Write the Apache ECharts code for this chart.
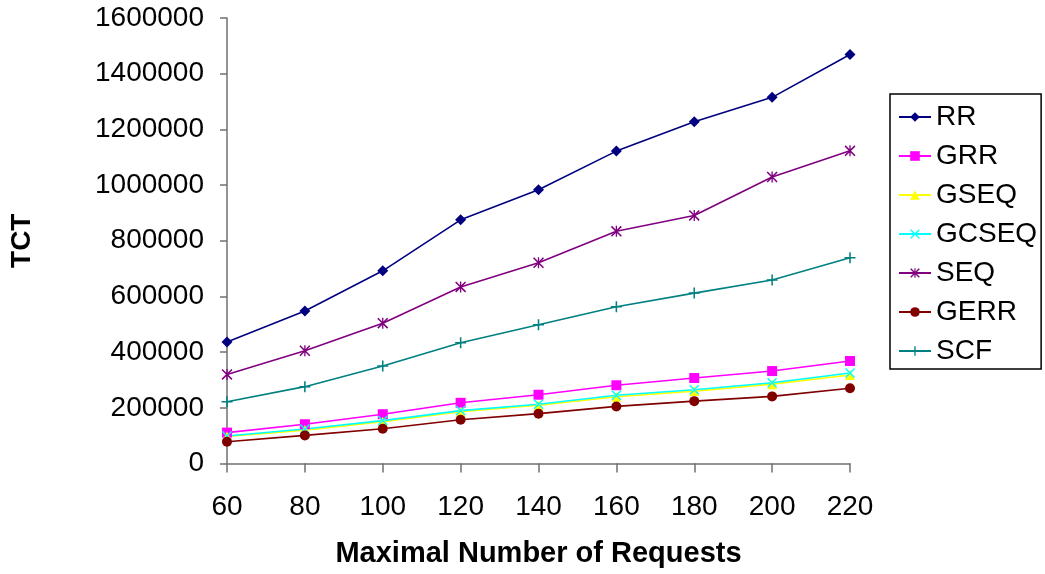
<!DOCTYPE html>
<html><head><meta charset="utf-8">
<script src="https://cdn.jsdelivr.net/npm/echarts@6/dist/echarts.min.js"></script>
<style>html,body{margin:0;padding:0;background:#fff}#c{width:1045px;height:574px}</style>
</head><body><div id="c"></div>
<script>
const categories = ['60','80','100','120','140','160','180','200','220'];
const RR    = [436000, 548000, 692000, 875000, 983000, 1122000, 1227000, 1315000, 1469000];
const GRR   = [111000, 141000, 177000, 218000, 247000, 281000, 307000, 332000, 368000];
const GSEQ  = [97000, 120000, 150000, 186000, 209000, 240000, 260000, 285000, 318000];
const GCSEQ = [99000, 124000, 154000, 190000, 213000, 245000, 265000, 290000, 325000];
const SEQ   = [320000, 405000, 504000, 634000, 721000, 834000, 891000, 1029000, 1123000];
const GERR  = [78000, 101000, 125000, 157000, 179000, 205000, 224000, 241000, 270000];
const SCF   = [222000, 276000, 350000, 434000, 498000, 563000, 612000, 659000, 739000];
const yTicks = [0, 200000, 400000, 600000, 800000, 1000000, 1200000, 1400000, 1600000];

const FONT = 'Arial, "Liberation Sans", sans-serif';
const PLUS = 'path://M4.3,0H5.7V4.3H10V5.7H5.7V10H4.3V5.7H0V4.3H4.3Z';
const XS = 'path://M0,1L1,0L10,9L9,10Z M9,0L10,1L1,10L0,9Z';
const AST = 'path://M0,1L1,0L10,9L9,10Z M9,0L10,1L1,10L0,9Z M4.4,0H5.6V10H4.4Z';

function s(name, data, color, symbol, size) {
  return {
    name, type: 'line', data, symbol, symbolSize: size,
    showSymbol: true, animation: false,
    lineStyle: { color, width: 1.6 },
    itemStyle: { color },
  };
}

const chart = echarts.init(document.getElementById('c'));
chart.setOption({
  backgroundColor: '#fff',
  animation: false,
  grid: { left: 226, right: 195, top: 18, bottom: 110.5, containLabel: false },
  xAxis: {
    type: 'category', data: categories, boundaryGap: false,
    name: 'Maximal Number of Requests', nameLocation: 'middle', nameGap: 76,
    nameTextStyle: { fontFamily: FONT, fontSize: 29, fontWeight: 'bold', color: '#000' },
    axisLine: { lineStyle: { color: '#707070', width: 1.5 } },
    axisTick: { show: true, length: 9, lineStyle: { color: '#707070', width: 1.5 } },
    axisLabel: { fontFamily: FONT, fontSize: 28, color: '#000', margin: 30 },
    splitLine: { show: false }
  },
  yAxis: {
    type: 'value', min: 0, max: 1600000, interval: 200000,
    name: 'TCT', nameLocation: 'middle', nameGap: 191, nameRotate: 90,
    nameTextStyle: { fontFamily: FONT, fontSize: 28, fontWeight: 'bold', color: '#000' },
    axisLine: { show: true, lineStyle: { color: '#707070', width: 1.5 } },
    axisTick: { show: true, length: 7, lineStyle: { color: '#707070', width: 1.5 } },
    axisLabel: { fontFamily: FONT, fontSize: 28, color: '#000', margin: 23,
      formatter: v => String(v) },
    splitLine: { show: false }
  },
  legend: {
    orient: 'vertical', left: 890, top: 94,
    padding: [9, 4, 4, 8],
    itemWidth: 32, itemHeight: 12, itemGap: 11,
    borderColor: '#000', borderWidth: 1.5, backgroundColor: '#fff',
    textStyle: { fontFamily: FONT, fontSize: 28, color: '#000', lineHeight: 26 },
    data: ['RR','GRR','GSEQ','GCSEQ','SEQ','GERR','SCF']
  },
  series: [
    s('RR', RR, '#000080', 'diamond', 11),
    s('GRR', GRR, '#FF00FF', 'rect', 10),
    s('GSEQ', GSEQ, '#FFFF00', 'triangle', 10),
    s('GCSEQ', GCSEQ, '#00FFFF', XS, 10),
    s('SEQ', SEQ, '#800080', AST, 11),
    s('GERR', GERR, '#800000', 'circle', 10),
    s('SCF', SCF, '#008080', PLUS, 11)
  ]
});
</script></body></html>
